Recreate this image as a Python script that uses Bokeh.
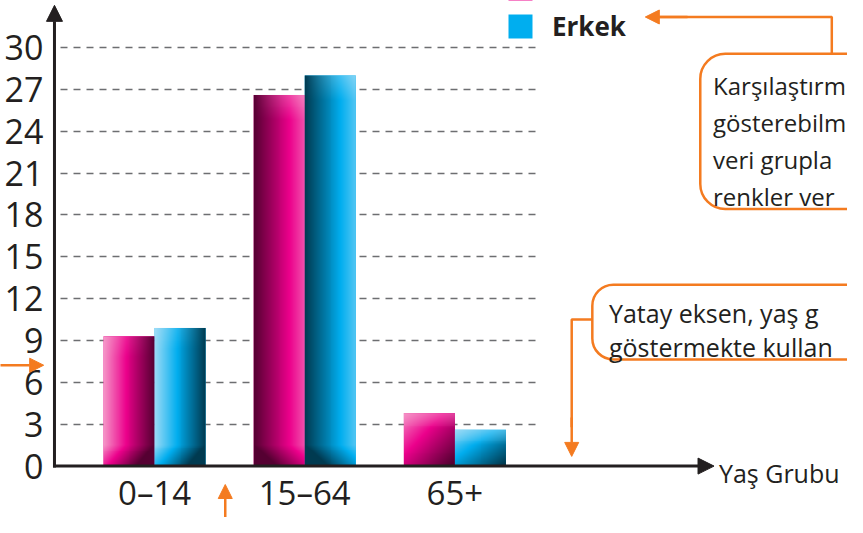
import numpy as np
from bokeh.plotting import figure
from bokeh.models import (Range1d, FixedTicker, Arrow, NormalHead, BoxAnnotation,
                          Legend, LegendItem, ColumnDataSource)
from bokeh.core.properties import value
from bokeh.embed import file_html
from bokeh.resources import INLINE

# ---------------- data ----------------
age_groups = ["0–14", "15–64", "65+"]
kadin = [9.3, 26.6, 3.8]
erkek = [9.9, 28.0, 2.6]
y_ticks = [0, 3, 6, 9, 12, 15, 18, 21, 24, 27, 30]
series_names = ["Kadın", "Erkek"]
x_title = "Yaş Grubu"
note_top = ["Karşılaştırm", "gösterebilm", "veri grupla", "renkler ver"]
note_mid = ["Yatay eksen, yaş g", "göstermekte kullan"]

# ---------------- geometry ----------------
W, H = 847, 517
RW, RH = 863, 533          # reference canvas the layout was measured on
SX, SY = W / RW, H / RH
PX_PER_Y = 14.383
Y0_PX = 480.0
PX_PER_X = 153.0
X1_PX = 157.0
BAR_W = 52 / PX_PER_X

def X(px):
    return 1 + (px - X1_PX) / PX_PER_X

def Y(py):
    return (Y0_PX - py) / PX_PER_Y

INK = "#231f20"
ORANGE = "#f47b20"
FONT = "Open Sans"

p = figure(width=W, height=H, x_range=Range1d(X(0), X(RW)),
           y_range=Range1d(Y(RH), Y(0)),
           output_backend="svg", toolbar_location=None, min_border=0)
p.outline_line_color = None
p.background_fill_color = "white"
p.border_fill_color = "white"

# ---------------- axes ----------------
xs = np.arange(1, len(age_groups) + 1, dtype=float)
xa = p.xaxis[0]
xa.fixed_location = 0
xa.ticker = FixedTicker(ticks=list(xs))
xa.major_label_overrides = {float(i): g for i, g in zip(xs, age_groups)}
xa.axis_line_color = None
xa.major_tick_line_color = None
xa.minor_tick_line_color = None
xa.major_tick_out = 0
xa.major_tick_in = 0
xa.major_label_text_font = FONT
xa.major_label_text_font_size = "33px"
xa.major_label_text_color = INK
xa.major_label_standoff = 4

ya = p.yaxis[0]
ya.fixed_location = X(55)
ya.ticker = FixedTicker(ticks=y_ticks)
ya.axis_line_color = None
ya.major_tick_line_color = None
ya.minor_tick_line_color = None
ya.major_tick_out = 0
ya.major_tick_in = 0
ya.major_label_text_font = FONT
ya.major_label_text_font_size = "34px"
ya.major_label_text_color = INK
ya.major_label_standoff = 11

p.xgrid.visible = False
g = p.ygrid[0]
g.ticker = FixedTicker(ticks=y_ticks[1:])
g.grid_line_color = "#6d6e71"
g.grid_line_width = 1.5
g.grid_line_dash = "7 6"
g.cross_bounds = (X(61), X(548))

# ---------------- bars ----------------
PINK = [(246, 158, 203), (236, 0, 140), (85, 0, 50)]
BLUE = [(165, 222, 247), (0, 174, 239), (0, 58, 80)]
KINDS = ["ltr", "rtl", "diag"]

def shade(pal, kind, cols, rows):
    L, M, D = [np.array(c, float) for c in pal]
    u = (np.arange(cols) + 0.5) / cols
    r = np.arange(rows) + 0.5
    U, R = np.meshgrid(u, r)
    top_d = rows - R
    if kind == "ltr":
        t = 0.02 + 0.98 * U
        t = t + 0.35 * np.clip(1 - R / 22, 0, 1)
        h = 0.35 * np.clip(1 - top_d / 22, 0, 1) * (1 - U)
    elif kind == "rtl":
        t = 1.0 - 0.78 * U
        t = t + 0.35 * np.clip(1 - R / 22, 0, 1)
        h = 0.6 * np.clip(1 - top_d / 26, 0, 1) * U
    else:
        t = 0.05 + 0.5 * U + 0.5 * np.clip(1 - R / rows, 0, 1)
        h = 0.45 * np.clip(1 - top_d / 16, 0, 1)
    t = np.clip(t, 0, 1)
    a = np.clip(t / 0.45, 0, 1)[..., None]
    b = np.clip((t - 0.45) / 0.55, 0, 1)[..., None]
    col = np.where(t[..., None] < 0.45, L + (M - L) * a, M + (D - M) * b)
    col = col * (1 - h[..., None]) + L * h[..., None]
    img = np.empty((rows, cols), dtype=np.uint32)
    view = img.view(dtype=np.uint8).reshape((rows, cols, 4))
    view[..., :3] = np.clip(col, 0, 255).astype(np.uint8)
    view[..., 3] = 255
    return img

src_k = ColumnDataSource(dict(x=xs - BAR_W / 2, top=kadin, grp=age_groups))
src_e = ColumnDataSource(dict(x=xs + BAR_W / 2, top=erkek, grp=age_groups))
rk = p.vbar(x="x", top="top", width=BAR_W, source=src_k, fill_color=PINK[1], line_color=None)
re = p.vbar(x="x", top="top", width=BAR_W, source=src_e, fill_color=BLUE[1], line_color=None)

imgs, ix, iy, idw, idh = [], [], [], [], []
for vals, pal, sgn in ((kadin, PINK, -1), (erkek, BLUE, 1)):
    for xc, v, kind in zip(xs, vals, KINDS):
        rows = max(4, int(round(v * PX_PER_Y)))
        imgs.append(shade(pal, kind, 52, rows))
        ix.append(xc + sgn * BAR_W / 2 - BAR_W / 2)
        iy.append(0)
        idw.append(BAR_W)
        idh.append(v)
p.image_rgba(image=imgs, x=ix, y=iy, dw=idw, dh=idh)

# ---------------- axis lines with arrows ----------------
p.add_layout(Arrow(end=NormalHead(size=16, fill_color=INK, line_color=INK),
                   x_start=X(55), y_start=Y(481.5), x_end=X(55), y_end=Y(5),
                   line_color=INK, line_width=3))
p.add_layout(Arrow(end=NormalHead(size=16, fill_color=INK, line_color=INK),
                   x_start=X(53.5), y_start=0, x_end=X(727), y_end=0,
                   line_color=INK, line_width=3))
p.text(x=[X(732)], y=[Y(487)], text=[x_title], text_font=value(FONT),
       text_font_size="25px", text_color=INK, text_align="left",
       text_baseline="alphabetic")

# ---------------- legend ----------------
legend = Legend(items=[LegendItem(label=series_names[0], renderers=[rk]),
                       LegendItem(label=series_names[1], renderers=[re])],
                location=(round(515 * SX), round(H - 45 * SY)), orientation="vertical",
                glyph_width=30, glyph_height=30, label_height=30, spacing=2,
                padding=0, margin=0, label_standoff=17,
                label_text_font=FONT, label_text_font_size="26px",
                label_text_font_style="bold", label_text_color=INK,
                border_line_color=None, background_fill_alpha=0)
p.add_layout(legend)

# ---------------- callouts ----------------
p.add_layout(BoxAnnotation(left=X(713), right=X(1000), top=Y(55), bottom=Y(215),
                           border_radius=25, line_color=ORANGE, line_alpha=1,
                           line_width=2.5, fill_color="white", fill_alpha=1,
                           level="underlay"))
p.text(x=[X(726)] * len(note_top), y=[Y(88 + 38 * i) for i in range(len(note_top))],
       text=note_top, text_font=value(FONT), text_font_size="24px", text_color=INK,
       text_align="left", text_baseline="alphabetic")
p.line(x=[X(847), X(847), X(665)], y=[Y(55), Y(17), Y(17)], line_color=ORANGE, line_width=2.5)
p.add_layout(Arrow(end=NormalHead(size=14, fill_color=ORANGE, line_color=ORANGE),
                   x_start=X(700), y_start=Y(17), x_end=X(657), y_end=Y(17),
                   line_color=ORANGE, line_width=2.5))

p.add_layout(BoxAnnotation(left=X(603), right=X(1000), top=Y(293), bottom=Y(370),
                           border_radius=21, line_color=ORANGE, line_alpha=1,
                           line_width=2.5, fill_color="white", fill_alpha=1,
                           level="underlay"))
p.text(x=[X(620)] * len(note_mid), y=[Y(322 + 35 * i) for i in range(len(note_mid))],
       text=note_mid, text_font=value(FONT), text_font_size="25px", text_color=INK,
       text_align="left", text_baseline="alphabetic")
p.line(x=[X(603), X(582), X(582)], y=[Y(329), Y(329), Y(440)], line_color=ORANGE, line_width=2.5)
p.add_layout(Arrow(end=NormalHead(size=14, fill_color=ORANGE, line_color=ORANGE),
                   x_start=X(582), y_start=Y(430), x_end=X(582), y_end=Y(470),
                   line_color=ORANGE, line_width=2.5))

# small pointers from notes outside the crop
p.add_layout(Arrow(end=NormalHead(size=14, fill_color=ORANGE, line_color=ORANGE),
                   x_start=X(229), y_start=Y(545), x_end=X(229), y_end=Y(499),
                   line_color=ORANGE, line_width=2.5))
p.add_layout(Arrow(end=NormalHead(size=14, fill_color=ORANGE, line_color=ORANGE),
                   x_start=X(-10), y_start=Y(376), x_end=X(44), y_end=Y(376),
                   line_color=ORANGE, line_width=2.5))

open("out.html", "w").write(file_html(p, INLINE))
